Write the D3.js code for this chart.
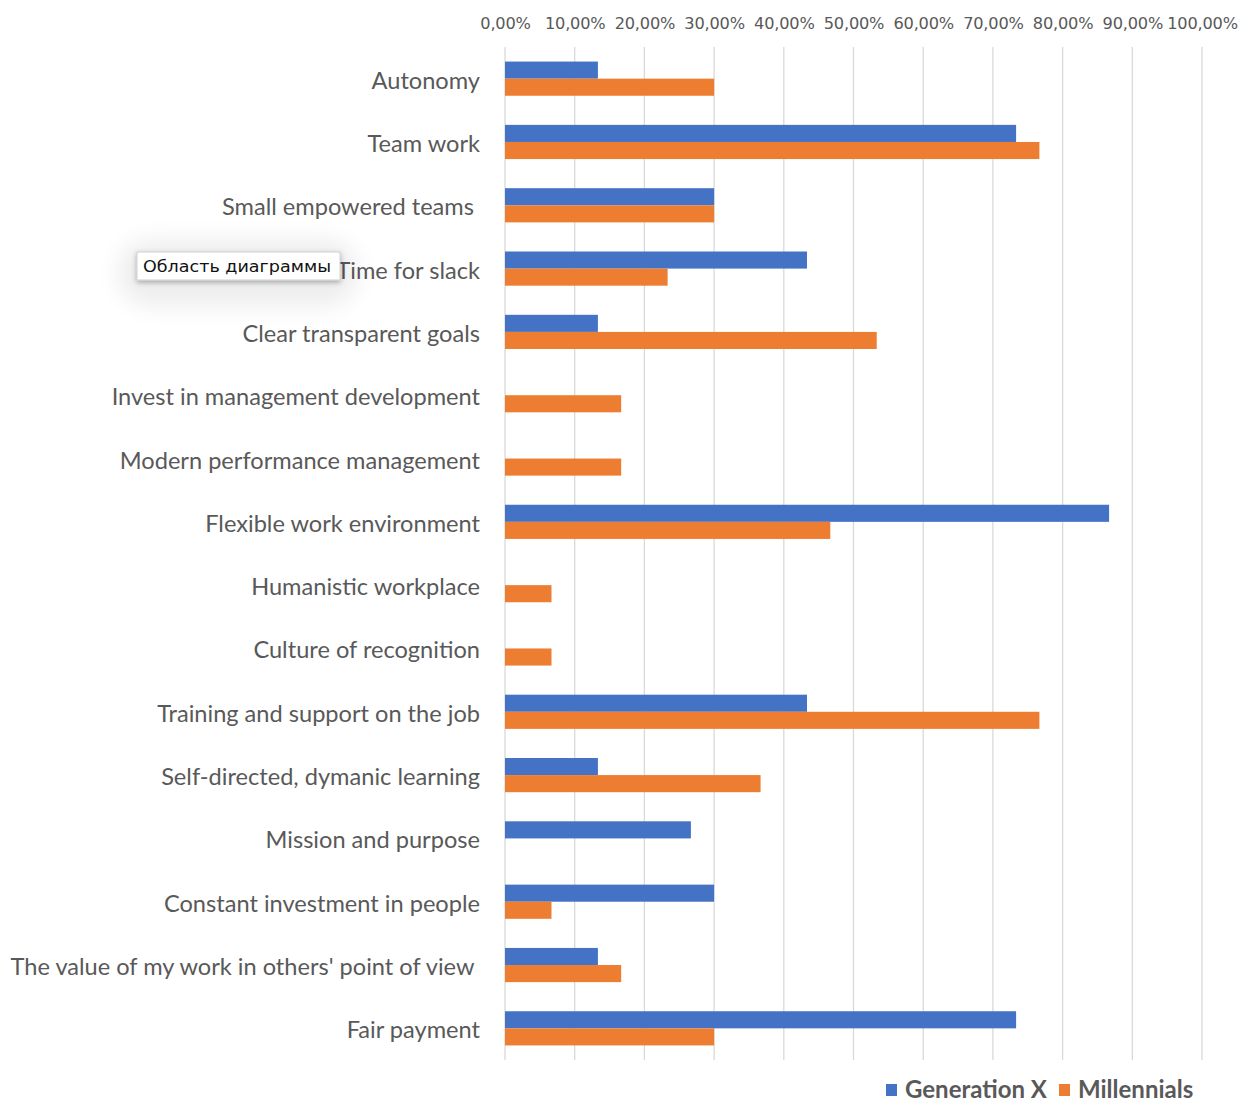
<!DOCTYPE html>
<html>
<head>
<meta charset="utf-8">
<script src="https://cdn.jsdelivr.net/npm/d3@7"></script>
<style>
  body { margin: 0; background: #fff; }
  svg { display: block; }
</style>
</head>
<body>
<svg id="chart" width="1242" height="1101"></svg>
<script>
const categories = [
  "Autonomy",
  "Team work",
  "Small empowered teams ",
  "Time for slack",
  "Clear transparent goals",
  "Invest in management development",
  "Modern performance management",
  "Flexible work environment",
  "Humanistic workplace",
  "Culture of recognition",
  "Training and support on the job",
  "Self-directed, dymanic learning",
  "Mission and purpose",
  "Constant investment in people",
  "The value of my work in others' point of view ",
  "Fair payment"
];
const genX = [0.1333, 0.7333, 0.30, 0.4333, 0.1333, 0, 0, 0.8667, 0, 0, 0.4333, 0.1333, 0.2667, 0.30, 0.1333, 0.7333];
const millennials = [0.30, 0.7667, 0.30, 0.2333, 0.5333, 0.1667, 0.1667, 0.4667, 0.0667, 0.0667, 0.7667, 0.3667, 0, 0.0667, 0.1667, 0.30];
const seriesNames = ["Generation X", "Millennials"];
const xTicks = [0, 0.1, 0.2, 0.3, 0.4, 0.5, 0.6, 0.7, 0.8, 0.9, 1.0];

const colors = ["#4472C4", "#ED7D31"];
const svg = d3.select("#chart");

const x = d3.scaleLinear().domain([0, 1]).range([505, 1202]);
const y = d3.scaleBand().domain(categories).range([47, 1060])
  .paddingInner(0.46).paddingOuter(0.23);
const ySub = d3.scaleBand().domain(seriesNames).range([0, y.bandwidth()]);

const loc = d3.formatLocale({ decimal: ",", thousands: " ", grouping: [3], currency: ["", ""] });
const fmt = loc.format(".2%");

// gridlines
svg.append("g")
  .selectAll("line")
  .data(xTicks)
  .join("line")
  .attr("x1", d => x(d)).attr("x2", d => x(d))
  .attr("y1", 47).attr("y2", 1060)
  .attr("stroke", "#d9d9d9")
  .attr("stroke-width", 1.3);

// top axis labels
const axis = svg.append("g")
  .attr("transform", "translate(0,29)")
  .call(d3.axisTop(x).tickValues(xTicks).tickFormat(fmt).tickSize(0).tickPadding(0));
axis.select(".domain").remove();
axis.selectAll("text")
  .attr("font-family", "DejaVu Sans, sans-serif")
  .attr("font-size", 16.2)
  .attr("fill", "#595959")
  .attr("letter-spacing", -0.2);

// category labels
svg.append("g")
  .selectAll("text")
  .data(categories)
  .join("text")
  .attr("x", 480)
  .attr("y", d => y(d) + y.bandwidth() / 2 + 1)
  .attr("text-anchor", "end")
  .attr("dominant-baseline", "central")
  .attr("font-family", "Lato, sans-serif")
  .attr("font-size", 23.6)
  .attr("fill", "#595959")
  .style("white-space", "pre")
  .text(d => d);

// bars
const rows = categories.map((c, i) => ({ c, vals: [genX[i], millennials[i]] }));
const groups = svg.append("g")
  .selectAll("g")
  .data(rows)
  .join("g")
  .attr("transform", d => `translate(0,${y(d.c)})`);

groups.selectAll("rect")
  .data(d => d.vals.map((v, j) => ({ v, s: seriesNames[j], j })))
  .join("rect")
  .attr("x", x(0))
  .attr("y", d => ySub(d.s))
  .attr("width", d => x(d.v) - x(0))
  .attr("height", ySub.bandwidth())
  .attr("fill", d => colors[d.j]);

// legend
const legendX = [886, 1059];
const legend = svg.append("g")
  .selectAll("g")
  .data(seriesNames)
  .join("g")
  .attr("transform", (d, i) => `translate(${legendX[i]},1084)`);
legend.append("rect")
  .attr("width", 11).attr("height", 12)
  .attr("fill", (d, i) => colors[i]);
legend.append("text")
  .attr("x", 19).attr("y", 14)
  .attr("font-family", "Lato, sans-serif")
  .attr("font-weight", "bold")
  .attr("font-size", 24)
  .attr("fill", "#595959")
  .text(d => d);

// tooltip overlay "Область диаграммы"
const defs = svg.append("defs");
defs.append("filter").attr("id", "halo")
  .attr("x", "-50%").attr("y", "-50%").attr("width", "200%").attr("height", "200%")
  .append("feGaussianBlur").attr("stdDeviation", 12);
defs.append("filter").attr("id", "shadow")
  .attr("x", "-20%").attr("y", "-50%").attr("width", "140%").attr("height", "200%")
  .append("feDropShadow").attr("dx", 0).attr("dy", 2).attr("stdDeviation", 2.5)
  .attr("flood-color", "#000").attr("flood-opacity", 0.3);

const tip = svg.append("g");
tip.append("rect")
  .attr("x", 118).attr("y", 240).attr("width", 240).attr("height", 66)
  .attr("rx", 33)
  .attr("fill", "#000").attr("opacity", 0.07)
  .attr("filter", "url(#halo)");
tip.append("rect")
  .attr("x", 137).attr("y", 252).attr("width", 203).attr("height", 28)
  .attr("fill", "#fff")
  .attr("stroke", "#cfcfcf")
  .attr("filter", "url(#shadow)");
tip.append("text")
  .attr("x", 143).attr("y", 272)
  .attr("font-family", "DejaVu Sans, sans-serif")
  .attr("font-size", 16.5)
  .attr("textLength", 188)
  .attr("lengthAdjust", "spacingAndGlyphs")
  .attr("fill", "#111")
  .text("Область диаграммы");
</script>
</body>
</html>
